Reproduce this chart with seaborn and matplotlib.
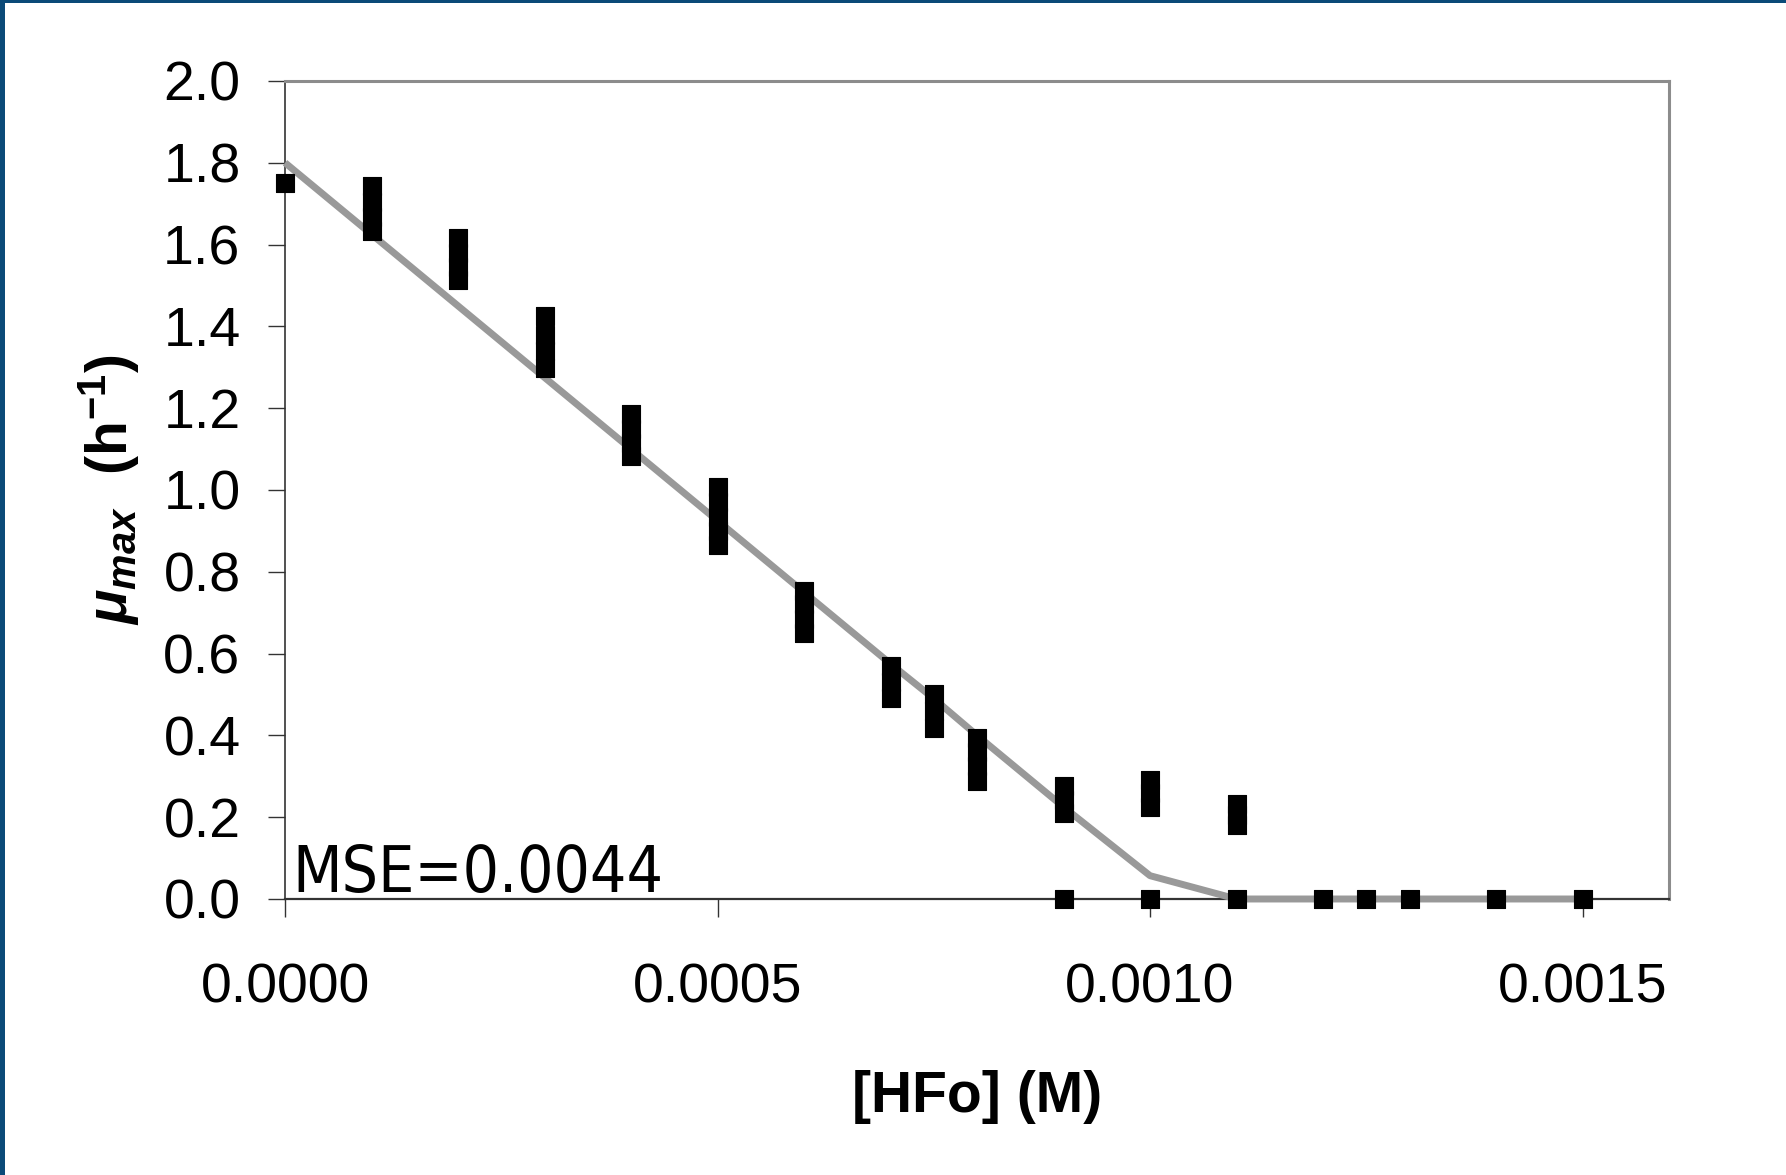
import matplotlib
matplotlib.use("Agg")
import matplotlib.pyplot as plt
from matplotlib.patches import Rectangle
import seaborn as sns
import pandas as pd

# ---------------- data ----------------
conc_obs = [0.0,
            0.0001, 0.0001, 0.0001, 0.0001,
            0.0002, 0.0002, 0.0002, 0.0002,
            0.0003, 0.0003, 0.0003, 0.0003,
            0.0004, 0.0004, 0.0004, 0.0004,
            0.0005, 0.0005, 0.0005, 0.0005, 0.0005,
            0.0006, 0.0006, 0.0006, 0.0006,
            0.0007, 0.0007, 0.0007,
            0.00075, 0.00075, 0.00075,
            0.0008, 0.0008, 0.0008, 0.0008,
            0.0009, 0.0009, 0.0009, 0.0009,
            0.0010, 0.0010, 0.0010, 0.0010,
            0.0011, 0.0011, 0.0011, 0.0011,
            0.0012, 0.00125, 0.0013, 0.0014, 0.0015]
mu_obs = [1.75,
          1.743, 1.705, 1.668, 1.633,
          1.616, 1.580, 1.545, 1.513,
          1.425, 1.380, 1.340, 1.298,
          1.186, 1.150, 1.115, 1.083,
          1.007, 0.970, 0.935, 0.900, 0.866,
          0.753, 0.720, 0.685, 0.650,
          0.570, 0.530, 0.491,
          0.501, 0.460, 0.418,
          0.394, 0.360, 0.325, 0.289,
          0.276, 0.243, 0.210, 0.0,
          0.291, 0.258, 0.225, 0.0,
          0.232, 0.205, 0.181, 0.0,
          0.0, 0.0, 0.0, 0.0, 0.0]

conc_model = [0.0, 0.0001, 0.0002, 0.0003, 0.0004, 0.0005, 0.0006, 0.0007,
              0.00075, 0.0008, 0.0009, 0.0010, 0.0011, 0.0012, 0.00125,
              0.0013, 0.0014, 0.0015]
mu_model = [1.80, 1.625, 1.45, 1.275, 1.10, 0.925, 0.75, 0.575,
            0.49, 0.40, 0.225, 0.057, 0.0, 0.0, 0.0, 0.0, 0.0, 0.0]

x_ticks = [0.0, 0.0005, 0.0010, 0.0015]
x_ticklabels = ["0.0000", "0.0005", "0.0010", "0.0015"]
y_ticks = [0.0, 0.2, 0.4, 0.6, 0.8, 1.0, 1.2, 1.4, 1.6, 1.8, 2.0]
y_ticklabels = ["0.0", "0.2", "0.4", "0.6", "0.8", "1.0", "1.2", "1.4", "1.6", "1.8", "2.0"]
annotation = "MSE=0.0044"
x_label = "[HFo] (M)"

# ---------------- style ----------------
sns.set_style("white")
plt.rcParams["font.family"] = ["Liberation Sans", "DejaVu Sans"]
plt.rcParams["mathtext.fontset"] = "custom"
plt.rcParams["mathtext.rm"] = "Liberation Sans:bold"
plt.rcParams["mathtext.it"] = "Liberation Sans:italic:bold"
plt.rcParams["mathtext.bf"] = "Liberation Sans:bold"
for key in ["text.color", "axes.labelcolor", "xtick.color", "ytick.color"]:
    plt.rcParams[key] = "black"

df_obs = pd.DataFrame({"conc": conc_obs, "mu": mu_obs})
df_mod = pd.DataFrame({"conc": conc_model, "mu": mu_model})

fig = plt.figure(figsize=(17.86, 11.75), dpi=100)
fig.patch.set_facecolor("white")
ax = fig.add_axes([0.1596, 0.2349, 0.9345 - 0.1596, 0.9311 - 0.2349])

sns.lineplot(data=df_mod, x="conc", y="mu", ax=ax, color="#999999",
             lw=5.0, estimator=None, sort=False, zorder=2, clip_on=False)
for ln in ax.get_lines():
    ln.set_linewidth(5.0)
    ln.set_solid_joinstyle("round")
    ln.set_solid_capstyle("butt")

rect_marker = [(-0.95, -1), (0.95, -1), (0.95, 1), (-0.95, 1), (-0.95, -1)]
sns.scatterplot(data=df_obs, x="conc", y="mu", ax=ax, marker=rect_marker,
                s=13.5 ** 2, color="black", edgecolor="black", linewidth=0.8,
                zorder=3, clip_on=False)

ax.set_xlim(0, 0.0016)
ax.set_ylim(0, 2.0)
ax.set_xticks(x_ticks)
ax.set_xticklabels(x_ticklabels)
ax.set_yticks(y_ticks)
ax.set_yticklabels(y_ticklabels)

ax.tick_params(axis="y", direction="out", length=12, width=1.0, color="#333333",
               labelcolor="black", labelsize=40, pad=20, left=True)
ax.tick_params(axis="x", direction="out", length=13, width=1.0, color="#333333",
               labelcolor="black", labelsize=40, pad=33, bottom=True)

for side in ["top", "right"]:
    ax.spines[side].set_color("#8c8c8c")
    ax.spines[side].set_linewidth(2.2)
ax.spines["left"].set_color("#333333")
ax.spines["left"].set_linewidth(1.2)
ax.spines["bottom"].set_color("#333333")
ax.spines["bottom"].set_linewidth(1.6)
for s in ax.spines.values():
    s.set_zorder(1)

ax.set_xlabel(x_label, fontsize=41, fontweight="bold", labelpad=40, color="black")
ax.set_ylabel(r"$\mathit{\mu}_{\mathit{max}}\ \ \mathrm{(h^{-1})}$",
              fontsize=41, labelpad=16, color="black")

ax.text(0.005, 0.009, annotation, transform=ax.transAxes, ha="left", va="baseline",
        fontsize=46, family=["DejaVu Sans"], fontstretch="condensed", color="black")

# slide border (dark blue on left and top)
fig.patches.append(Rectangle((0, 0), 5 / 1786, 1, transform=fig.transFigure,
                             facecolor="#0b4a78", edgecolor="none", zorder=10))
fig.patches.append(Rectangle((0, 1 - 3 / 1175), 1, 3 / 1175, transform=fig.transFigure,
                             facecolor="#0b4a78", edgecolor="none", zorder=10))

fig.savefig("out.png", dpi=100, facecolor="white")
